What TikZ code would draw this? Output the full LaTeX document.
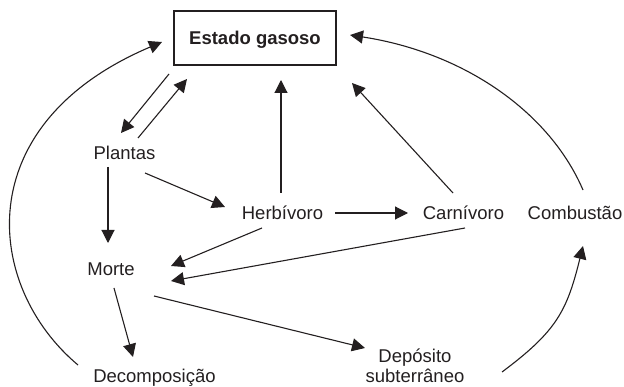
\documentclass[tikz,border=0pt]{standalone}
\usepackage{fontspec}
\setmainfont{Liberation Sans}
\usetikzlibrary{arrows.meta}
\definecolor{ink}{RGB}{35,31,32}
\begin{document}
\begin{tikzpicture}[x=1pt,y=-1pt,
  lbl/.style={font=\fontsize{18.5}{20}\selectfont, text=ink, inner sep=0pt, anchor=base},
  arr/.style={draw=ink, line width=1.1pt, -{Triangle[length=13pt,width=13pt]}},
  gasbox/.style={draw=ink, line width=1.1pt, minimum width=162pt, minimum height=54pt,
    inner sep=0pt, text height=13.3pt, text depth=0pt,
    font=\fontsize{18.5}{20}\selectfont\bfseries, text=ink}]
\useasboundingbox (0,0) rectangle (624,387);
\node[gasbox] (box) at (255,38) {Estado gasoso};
\node[lbl] (pl) at (124.5,160) {Plantas};
\node[lbl] (he) at (282.5,220) {Herbívoro};
\node[lbl] (ca) at (463.5,220) {Carnívoro};
\node[lbl] (co) at (575,220) {Combustão};
\node[lbl] (mo) at (111,276) {Morte};
\node[lbl] (dc) at (154.5,382.5) {Decomposição};
\node[lbl, align=center] (de) at (415,382.7) {Depósito\\subterrâneo};
% arrows
\draw[arr] ([shift={(-86,36)}]box.center) -- ([shift={(-3.5,-27)}]pl.base);
\draw[arr] ([shift={(13.5,-22)}]pl.base) -- ([shift={(-68,41)}]box.center);
\draw[arr] ([shift={(-1.5,-27)}]he.base) -- ([shift={(26,42)}]box.center);
\draw[arr] ([shift={(-10.5,-27)}]ca.base) -- ([shift={(97,45)}]box.center);
\draw[arr] ([shift={(8,-30)}]co.base) .. controls (549.7,112.4) and (464.8,52.7) .. ([shift={(95,-3)}]box.center);
\draw[arr] ([shift={(-76.5,-17.5)}]dc.base) .. controls (-15.5,286.6) and (-32.6,124.5) .. ([shift={(-93,4)}]box.center);
\draw[arr] ([shift={(20.5,13)}]pl.base) -- ([shift={(-57.5,-13)}]he.base);
\draw[arr] ([shift={(-16.5,7)}]pl.base) -- ([shift={(-3,-33)}]mo.base);
\draw[arr] ([shift={(-20.5,8)}]he.base) -- ([shift={(60,-10)}]mo.base);
\draw[arr] ([shift={(1.5,8)}]ca.base) -- ([shift={(60,5)}]mo.base);
\draw[arr] ([shift={(52.5,-7)}]he.base) -- ([shift={(-55.5,-7)}]ca.base);
\draw[arr] ([shift={(3,12)}]mo.base) -- ([shift={(-21.5,-25.5)}]dc.base);
\draw[arr] ([shift={(43,20)}]mo.base) -- ([shift={(-50,-34.7)}]de.base);
\draw[arr] ([shift={(87,-10.7)}]de.base) .. controls (556.8,331.1) and (566.9,311.1) .. ([shift={(8,26)}]co.base);
\end{tikzpicture}
\end{document}
